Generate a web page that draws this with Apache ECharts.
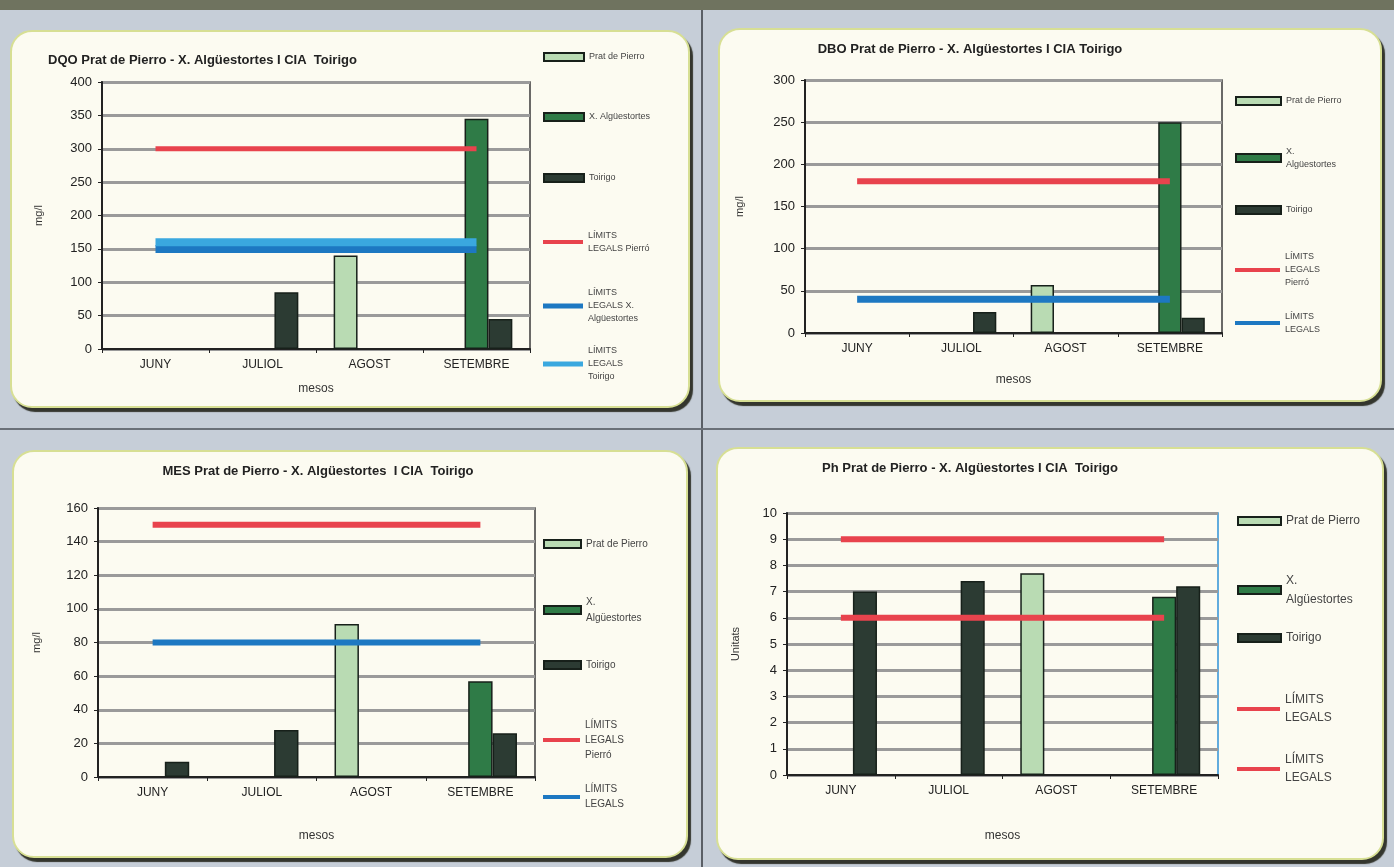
<!DOCTYPE html>
<html>
<head>
<meta charset="utf-8">
<script src="https://cdn.jsdelivr.net/npm/echarts@6/dist/echarts.min.js"></script>
<style>
  html, body { margin: 0; padding: 0; }
  body { width: 1394px; height: 867px; background: #c6ced8; position: relative; overflow: hidden; font-family: "Liberation Sans", Arial, sans-serif; }
  .topbar { position: absolute; left: 0; top: 0; width: 1394px; height: 10px; background: #6f735f; }
  .vline { position: absolute; left: 701px; top: 10px; width: 2px; height: 857px; background: #5a5f66; }
  .hline { position: absolute; left: 0; top: 428px; width: 1394px; height: 2px; background: #6a7078; }
  .panel { position: absolute; background: #fcfbf1; border: 2px solid #d7df94; border-radius: 22px; box-shadow: 3px 4px 1px #34362e; }
  #chart { position: absolute; left: 0; top: 0; width: 1394px; height: 867px; }
</style>
</head>
<body>
<div class="topbar"></div>
<div class="vline"></div>
<div class="hline"></div>
<div class="panel" style="left:10px;top:30px;width:676px;height:374px"></div>
<div class="panel" style="left:718px;top:28px;width:660px;height:370px"></div>
<div class="panel" style="left:12px;top:450px;width:672px;height:404px"></div>
<div class="panel" style="left:716px;top:447px;width:664px;height:409px"></div>
<div id="chart"></div>
<script>
// mesos
const months = ['JUNY', 'JULIOL', 'AGOST', 'SETEMBRE'];

// DQO (mg/l)
const dqoPrat = [null, null, 140, null];
const dqoAlg = [null, null, null, 345];
const dqoToirigo = [null, 85, null, 45];
const dqoLimPierro = [300, 300, 300, 300];
const dqoLimAlg = [150, 150, 150, 150];
const dqoLimToirigo = [160, 160, 160, 160];

// DBO (mg/l)
const dboPrat = [null, null, 57, null];
const dboAlg = [null, null, null, 250];
const dboToirigo = [null, 25, null, 18];
const dboLimPierro = [180, 180, 180, 180];
const dboLim = [40, 40, 40, 40];

// MES (mg/l)
const mesPrat = [null, null, 91, null];
const mesAlg = [null, null, null, 57];
const mesToirigo = [9, 28, null, 26];
const mesLimPierro = [150, 150, 150, 150];
const mesLim = [80, 80, 80, 80];

// Ph (Unitats)
const phPrat = [null, null, 7.7, null];
const phAlg = [null, null, null, 6.8];
const phToirigo = [7.0, 7.4, null, 7.2];
const phLimMax = [9, 9, 9, 9];
const phLimMin = [6, 6, 6, 6];

const titles = [
    'DQO Prat de Pierro - X. Algüestortes I CIA  Toirigo',
    'DBO Prat de Pierro - X. Algüestortes I CIA Toirigo',
    'MES Prat de Pierro - X. Algüestortes  I CIA  Toirigo',
    'Ph Prat de Pierro - X. Algüestortes I CIA  Toirigo'
];

const FONT = '"Liberation Sans", Arial, sans-serif';
const cPrat = '#b9dbb3', cAlg = '#2f7b47', cToirigo = '#2c3b33';
const cRed = '#e8434d', cBlue = '#1d78c2', cLightBlue = '#3aa8df';

const grids = [
    { left: 102, top: 82, width: 428, height: 267 },
    { left: 805, top: 80, width: 417, height: 253 },
    { left: 98, top: 508, width: 437, height: 269 },
    { left: 787, top: 513, width: 431, height: 262 }
];
const yCfg = [
    { max: 400, interval: 50, name: 'mg/l', gap: 58, xGap: 34 },
    { max: 300, interval: 50, name: 'mg/l', gap: 60, xGap: 41 },
    { max: 160, interval: 20, name: 'mg/l', gap: 56, xGap: 53 },
    { max: 10, interval: 1, name: 'Unitats', gap: 46, xGap: 55 }
];

const option = {
    backgroundColor: 'transparent',
    animation: false,
    grid: grids.map((g, i) => Object.assign({
        show: true, backgroundColor: 'transparent',
        borderColor: i === 3 ? '#2f93d6' : '#3a3a3a', borderWidth: i === 3 ? 1.5 : 1.5
    }, g)),
    xAxis: grids.map((g, i) => ({
        type: 'category', gridIndex: i, data: months,
        name: 'mesos', nameLocation: 'middle', nameGap: yCfg[i].xGap,
        nameTextStyle: { fontFamily: FONT, fontSize: 12, color: '#333' },
        axisLine: { lineStyle: { color: '#222', width: 2 } },
        axisTick: { show: true, length: 4, lineStyle: { color: '#222' } },
        axisLabel: { fontFamily: FONT, fontSize: 12, color: '#222', margin: 10 }
    })),
    yAxis: grids.map((g, i) => ({
        type: 'value', gridIndex: i, min: 0, max: yCfg[i].max, interval: yCfg[i].interval,
        name: yCfg[i].name, nameLocation: 'middle', nameGap: yCfg[i].gap,
        nameTextStyle: { fontFamily: FONT, fontSize: 11, color: '#333' },
        axisLine: { show: true, lineStyle: { color: '#222', width: 2 } },
        axisTick: { show: true, length: 4, lineStyle: { color: '#222' } },
        axisLabel: { fontFamily: FONT, fontSize: 13, color: '#222', margin: 10 },
        splitLine: { show: true, lineStyle: { color: '#9a9a9a', width: 3 } }
    })),
    graphic: [
        { type: 'text', x: 48, y: 60, style: { text: titles[0], font: 'bold 13px ' + FONT, fill: '#222', textAlign: 'left', textVerticalAlign: 'middle' } },
        { type: 'text', x: 970, y: 49, style: { text: titles[1], font: 'bold 13px ' + FONT, fill: '#222', textAlign: 'center', textVerticalAlign: 'middle' } },
        { type: 'text', x: 318, y: 471, style: { text: titles[2], font: 'bold 13px ' + FONT, fill: '#222', textAlign: 'center', textVerticalAlign: 'middle' } },
        { type: 'text', x: 970, y: 468, style: { text: titles[3], font: 'bold 13px ' + FONT, fill: '#222', textAlign: 'center', textVerticalAlign: 'middle' } }
    ],
    legend: [],
    series: []
};

function bar(id, label, data, color, gi) {
    return {
        id: id, name: id, type: 'bar', xAxisIndex: gi, yAxisIndex: gi, data: data,
        barGap: '0%', barCategoryGap: '33%',
        itemStyle: { color: color, borderColor: '#17201a', borderWidth: 1.5 },
        label: { show: false }
    };
}
function limit(id, data, color, width, gi) {
    return {
        id: id, name: id, type: 'line', xAxisIndex: gi, yAxisIndex: gi, data: data,
        symbol: 'none', lineStyle: { color: color, width: width }, itemStyle: { color: color }, z: 5
    };
}

const labels = {};
// [grid, id, legend text, legend center y]
const legendItems = [];
function addLegend(gi, id, text, cy, x, iconW, iconH, fs, lh) {
    labels[id] = text;
    const lines = text.split('\n').length;
    option.legend.push({
        data: [{ name: id, icon: 'rect' }], left: x, top: cy - Math.max(lines * lh, iconH) / 2,
        padding: 0, itemWidth: iconW, itemHeight: iconH, itemGap: 4, selectedMode: false,
        formatter: n => labels[n],
        textStyle: { fontFamily: FONT, fontSize: fs, color: '#444', lineHeight: lh }
    });
}

// chart 1: DQO
option.series.push(
    bar('p1', 'Prat de Pierro', dqoPrat, cPrat, 0),
    bar('a1', 'X. Algüestortes', dqoAlg, cAlg, 0),
    bar('t1', 'Toirigo', dqoToirigo, cToirigo, 0),
    limit('lp1', dqoLimPierro, cRed, 5, 0),
    limit('la1', dqoLimAlg, cBlue, 8, 0),
    limit('lt1', dqoLimToirigo, cLightBlue, 8, 0)
);
addLegend(0, 'p1', 'Prat de Pierro', 57, 543, 40, 8, 9, 12);
addLegend(0, 'a1', 'X. Algüestortes', 117, 543, 40, 8, 9, 12);
addLegend(0, 't1', 'Toirigo', 178, 543, 40, 8, 9, 12);
addLegend(0, 'lp1', 'LÍMITS\nLEGALS Pierró', 242, 543, 40, 4, 9, 13);
addLegend(0, 'la1', 'LÍMITS\nLEGALS X.\nAlgüestortes', 306, 543, 40, 5, 9, 13);
addLegend(0, 'lt1', 'LÍMITS\nLEGALS\nToirigo', 364, 543, 40, 5, 9, 13);

// chart 2: DBO
option.series.push(
    bar('p2', 'Prat de Pierro', dboPrat, cPrat, 1),
    bar('a2', 'X. Algüestortes', dboAlg, cAlg, 1),
    bar('t2', 'Toirigo', dboToirigo, cToirigo, 1),
    limit('lp2', dboLimPierro, cRed, 6, 1),
    limit('lb2', dboLim, cBlue, 7, 1)
);
addLegend(1, 'p2', 'Prat de Pierro', 101, 1235, 45, 8, 9, 12);
addLegend(1, 'a2', 'X.\nAlgüestortes', 158, 1235, 45, 8, 9, 13);
addLegend(1, 't2', 'Toirigo', 210, 1235, 45, 8, 9, 12);
addLegend(1, 'lp2', 'LÍMITS\nLEGALS\nPierró', 270, 1235, 45, 4, 9, 13);
addLegend(1, 'lb2', 'LÍMITS\nLEGALS', 323, 1235, 45, 4, 9, 13);

// chart 3: MES
option.series.push(
    bar('p3', 'Prat de Pierro', mesPrat, cPrat, 2),
    bar('a3', 'X. Algüestortes', mesAlg, cAlg, 2),
    bar('t3', 'Toirigo', mesToirigo, cToirigo, 2),
    limit('lp3', mesLimPierro, cRed, 6, 2),
    limit('lb3', mesLim, cBlue, 6, 2)
);
addLegend(2, 'p3', 'Prat de Pierro', 544, 543, 37, 8, 10, 13);
addLegend(2, 'a3', 'X.\nAlgüestortes', 610, 543, 37, 8, 10, 16);
addLegend(2, 't3', 'Toirigo', 665, 543, 37, 8, 10, 13);
addLegend(2, 'lp3', 'LÍMITS\nLEGALS\nPierró', 740, 543, 37, 4, 10, 15);
addLegend(2, 'lb3', 'LÍMITS\nLEGALS', 797, 543, 37, 4, 10, 15);

// chart 4: Ph
option.series.push(
    bar('p4', 'Prat de Pierro', phPrat, cPrat, 3),
    bar('a4', 'X. Algüestortes', phAlg, cAlg, 3),
    bar('t4', 'Toirigo', phToirigo, cToirigo, 3),
    limit('lmax4', phLimMax, cRed, 6, 3),
    limit('lmin4', phLimMin, cRed, 6, 3)
);
addLegend(3, 'p4', 'Prat de Pierro', 521, 1237, 43, 8, 12, 15);
addLegend(3, 'a4', 'X.\nAlgüestortes', 590, 1237, 43, 8, 12, 19);
addLegend(3, 't4', 'Toirigo', 638, 1237, 43, 8, 12, 15);
addLegend(3, 'lmax4', 'LÍMITS\nLEGALS', 709, 1237, 43, 4, 12, 18);
addLegend(3, 'lmin4', 'LÍMITS\nLEGALS', 769, 1237, 43, 4, 12, 18);

const chart = echarts.init(document.getElementById('chart'), null, { renderer: 'canvas' });
chart.setOption(option);
</script>
</body>
</html>
